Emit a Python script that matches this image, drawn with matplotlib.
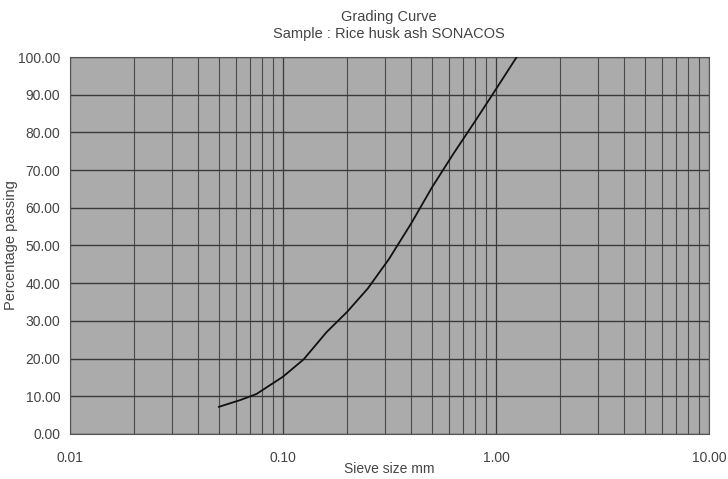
import matplotlib
matplotlib.use("Agg")
import matplotlib.pyplot as plt
from matplotlib.ticker import FixedLocator, FuncFormatter, LogLocator, NullFormatter

plt.rcParams['font.family'] = ['Liberation Sans', 'DejaVu Sans']

# sieve sizes (mm) and percentage passing
sieve_mm = [0.05, 0.063, 0.075, 0.1, 0.125, 0.16, 0.2, 0.25, 0.315, 0.4, 0.5, 0.63, 0.8, 1.0, 1.25]
passing = [7.2, 9.0, 10.6, 15.2, 19.8, 27.0, 32.4, 38.6, 46.5, 55.9, 65.4, 74.3, 83.1, 91.5, 100.0]

x_ticks = [0.01, 0.1, 1.0, 10.0]
y_ticks = [0, 10, 20, 30, 40, 50, 60, 70, 80, 90, 100]

fig = plt.figure(figsize=(7.28, 4.79), dpi=100)
ax = fig.add_axes([0.0962, 0.094, 0.8778, 0.787])
ax.set_facecolor('#ababab')

ax.plot(sieve_mm, passing, color='#111111', lw=1.3, zorder=3)

ax.set_xscale('log')
ax.set_xlim(0.01, 10)
ax.set_ylim(0, 100)
ax.xaxis.set_major_locator(FixedLocator(x_ticks))
ax.xaxis.set_minor_locator(LogLocator(base=10, subs=range(2, 10)))
ax.xaxis.set_minor_formatter(NullFormatter())
ax.xaxis.set_major_formatter(FuncFormatter(lambda v, p: f"{v:.2f}"))
ax.yaxis.set_major_locator(FixedLocator(y_ticks))
ax.yaxis.set_major_formatter(FuncFormatter(lambda v, p: f"{v:.2f}"))

ax.grid(True, which='minor', axis='x', color='#4a4a4a', lw=0.8)
ax.grid(True, which='major', axis='x', color='#3a3a3a', lw=0.9)
ax.grid(True, which='major', axis='y', color='#3a3a3a', lw=1.0)
ax.tick_params(which='both', length=0, labelsize=10, colors='#444444')
ax.tick_params(axis='x', pad=12)
ax.tick_params(axis='y', pad=7)
for s in ax.spines.values():
    s.set_color('#555555')
    s.set_linewidth(0.8)

ax.set_xlabel("Sieve size mm", fontsize=10, color='#444444')
ax.set_ylabel("Percentage passing", fontsize=10.5, color='#444444')
ax.xaxis.set_label_coords(0.5, -0.075)
ax.yaxis.set_label_coords(-0.081, 0.5)
fig.text(0.534, 0.964, "Grading Curve", ha='center', va='center', fontsize=10.5, color='#444444')
fig.text(0.534, 0.928, "Sample : Rice husk ash SONACOS", ha='center', va='center', fontsize=10.5, color='#444444')

fig.savefig("out.png", dpi=100)
